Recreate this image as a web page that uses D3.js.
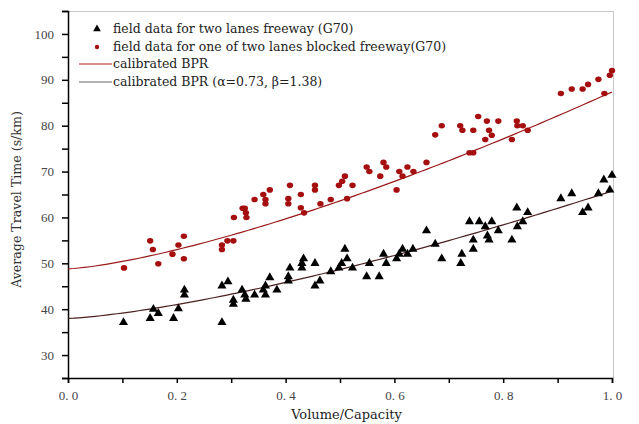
<!DOCTYPE html>
<html><head><meta charset="utf-8">
<script src="https://cdn.jsdelivr.net/npm/d3@7"></script>
<style>body{margin:0;background:#fff}svg{display:block}</style>
</head><body><svg id="c" width="639" height="424"></svg>
<script>
// ---- data ----
const twoLaneX = [0.102,0.151,0.157,0.166,0.194,0.203,0.214,0.214,0.283,0.283,0.294,0.304,0.304,0.320,0.325,0.327,0.343,0.359,0.363,0.363,0.371,0.384,0.405,0.405,0.408,0.430,0.430,0.433,0.454,0.454,0.463,0.483,0.498,0.503,0.509,0.513,0.523,0.549,0.554,0.572,0.580,0.585,0.604,0.609,0.615,0.624,0.634,0.659,0.675,0.687,0.722,0.724,0.738,0.745,0.745,0.756,0.767,0.771,0.774,0.779,0.791,0.816,0.825,0.826,0.836,0.845,0.906,0.926,0.946,0.956,0.975,0.985,0.996,1.0];
const twoLaneY = [37.1,38.0,40.0,39.1,38.0,40.1,44.2,43.1,37.1,45.1,46.0,42.0,41.1,44.2,43.1,42.2,43.1,44.2,45.1,43.1,46.9,44.2,46.2,47.1,49.0,50.0,49.0,51.0,50.0,45.1,46.2,48.2,49.0,50.0,53.1,51.0,49.0,47.1,50.0,47.1,52.0,50.0,51.0,52.0,53.1,52.0,53.1,57.1,54.2,51.0,50.0,52.0,59.1,55.1,53.1,59.1,58.0,56.0,55.1,59.1,57.1,55.1,62.1,58.0,59.1,61.1,64.1,65.2,61.1,62.1,65.2,68.2,66.0,69.2];
const blockedX = [0.103,0.151,0.156,0.166,0.192,0.203,0.213,0.213,0.283,0.283,0.293,0.304,0.305,0.321,0.325,0.327,0.328,0.343,0.359,0.363,0.363,0.371,0.405,0.405,0.408,0.428,0.428,0.434,0.454,0.454,0.464,0.483,0.498,0.504,0.509,0.513,0.523,0.549,0.554,0.574,0.580,0.585,0.604,0.609,0.615,0.624,0.635,0.659,0.675,0.687,0.721,0.725,0.738,0.745,0.745,0.754,0.767,0.770,0.774,0.779,0.791,0.816,0.825,0.826,0.836,0.845,0.906,0.926,0.946,0.956,0.975,0.986,0.996,1.0];
const blockedY = [49.0,54.9,53.0,49.9,52.0,54.0,55.9,51.0,54.0,53.0,54.9,54.9,60.0,62.0,62.0,61.0,60.0,63.9,65.0,63.9,63.0,66.0,64.1,63.0,67.0,65.0,62.1,61.0,67.0,66.0,63.0,63.9,67.0,67.9,69.0,64.1,67.0,71.0,70.0,69.0,72.0,71.0,66.0,70.0,69.0,71.0,70.0,72.0,78.0,80.0,80.0,79.0,74.1,74.1,79.0,82.0,77.0,81.0,79.0,77.9,81.0,77.0,81.0,80.0,80.0,79.0,87.0,88.0,88.0,89.0,90.1,87.0,91.0,92.0];
// BPR model parameters: [t0, alpha, beta]
const bprBlocked = [48.8, 0.79, 1.38];
const bprTwoLane = [38.0, 0.73, 1.38];
const xTicks = [0,0.1,0.2,0.3,0.4,0.5,0.6,0.7,0.8,0.9,1.0];
const xLabels = ["0. 0","","0. 2","","0. 4","","0. 6","","0. 8","","1. 0"];
const yTicks = [25,30,35,40,45,50,55,60,65,70,75,80,85,90,95,100,105];
const yLabelTicks = [30,40,50,60,70,80,90,100];
const legendLabels = ["field data for two lanes freeway (G70)","field data for one of two lanes blocked freeway(G70)","calibrated BPR","calibrated BPR (\u03b1=0.73, \u03b2=1.38)"];

// ---- drawing ----
const svg = d3.select("#c");
const L=68, R=613, T=11, B=378;
const font = "'Liberation Serif','DejaVu Serif',serif";
const wfont = "'DejaVu Serif',serif";
const x = d3.scaleLinear().domain([0,1]).range([L,R-1]);
const y = d3.scaleLinear().domain([25,105]).range([B,T]);
const red = "#a50f0f", dark = "#000";

// frame (top/right light)
svg.append("line").attr("x1",L).attr("x2",R).attr("y1",T+0.5).attr("y2",T+0.5).attr("stroke","#c8c8c8");
svg.append("line").attr("x1",R+0.5).attr("x2",R+0.5).attr("y1",T).attr("y2",B).attr("stroke","#c8c8c8");

const xAxis = d3.axisBottom(x).tickValues(xTicks).tickSize(5).tickFormat((d,i)=>xLabels[i]);
const gx = svg.append("g").attr("transform",`translate(0,${B})`).call(xAxis);
gx.select(".domain").attr("stroke","#000").attr("stroke-width",1.5);
gx.selectAll(".tick line").attr("stroke","#000").attr("stroke-width",1.5);
gx.selectAll("text").attr("font-family",font).attr("font-size",13).attr("fill","#444").attr("dy","1.05em");

const yAxis = d3.axisLeft(y).tickValues(yTicks).tickSize(6).tickFormat(d=>yLabelTicks.includes(d)?d:"");
const gy = svg.append("g").attr("transform",`translate(${L},0)`).call(yAxis);
gy.select(".domain").attr("stroke","#000").attr("stroke-width",1.5);
gy.selectAll(".tick line").attr("stroke","#000").attr("stroke-width",1.5);
gy.selectAll("text").attr("font-family",font).attr("font-size",13).attr("fill","#444").attr("x",-14);

svg.append("text").attr("transform",`translate(21,${(T+B)/2+5}) rotate(-90)`).attr("text-anchor","middle")
  .attr("font-family",wfont).attr("font-size",12.6).attr("fill","#333").text("Average Travel Time (s/km)");
svg.append("text").attr("x",(L+R)/2+6).attr("y",419).attr("text-anchor","middle")
  .attr("font-family",wfont).attr("font-size",13).attr("fill","#222").text("Volume/Capacity");

// curves
const xs = d3.range(0,1.0001,0.01);
const bpr = p => v => p[0]*(1+p[1]*Math.pow(v,p[2]));
const line = f => d3.line().x(v=>x(v)).y(v=>y(f(v)))(xs);
svg.append("path").attr("d",line(bpr(bprBlocked))).attr("fill","none").attr("stroke","#9a1a1a").attr("stroke-width",1.2);
svg.append("path").attr("d",line(bpr(bprTwoLane))).attr("fill","none").attr("stroke","#4a2020").attr("stroke-width",1.2);

// points
const tri = d3.symbol().type(d3.symbolTriangle).size(36);
svg.append("g").selectAll("path").data(d3.range(twoLaneX.length)).join("path")
  .attr("d",tri).attr("transform",i=>`translate(${x(twoLaneX[i])},${y(twoLaneY[i])})`).attr("fill",dark);
svg.append("g").selectAll("ellipse").data(d3.range(blockedX.length)).join("ellipse")
  .attr("cx",i=>x(blockedX[i])).attr("cy",i=>y(blockedY[i])).attr("rx",3.2).attr("ry",2.8).attr("fill",red);

// legend
const lg = svg.append("g");
const ly = [29,47,64,82];
lg.append("path").attr("d",d3.symbol().type(d3.symbolTriangle).size(26)).attr("transform",`translate(97,${ly[0]})`).attr("fill",dark);
lg.append("circle").attr("cx",97).attr("cy",ly[1]).attr("r",2.2).attr("fill",red);
lg.append("line").attr("x1",79).attr("x2",112).attr("y1",ly[2]).attr("y2",ly[2]).attr("stroke","#b02020").attr("stroke-width",1.2);
lg.append("line").attr("x1",79).attr("x2",112).attr("y1",ly[3]).attr("y2",ly[3]).attr("stroke","#666").attr("stroke-width",1.2);
legendLabels.forEach((t,i)=>{
  lg.append("text").attr("x",113).attr("y",ly[i]).attr("dy","0.35em").attr("font-family",wfont)
    .attr("font-size",12.5).attr("fill","#222").text(t);
});
</script></body></html>
